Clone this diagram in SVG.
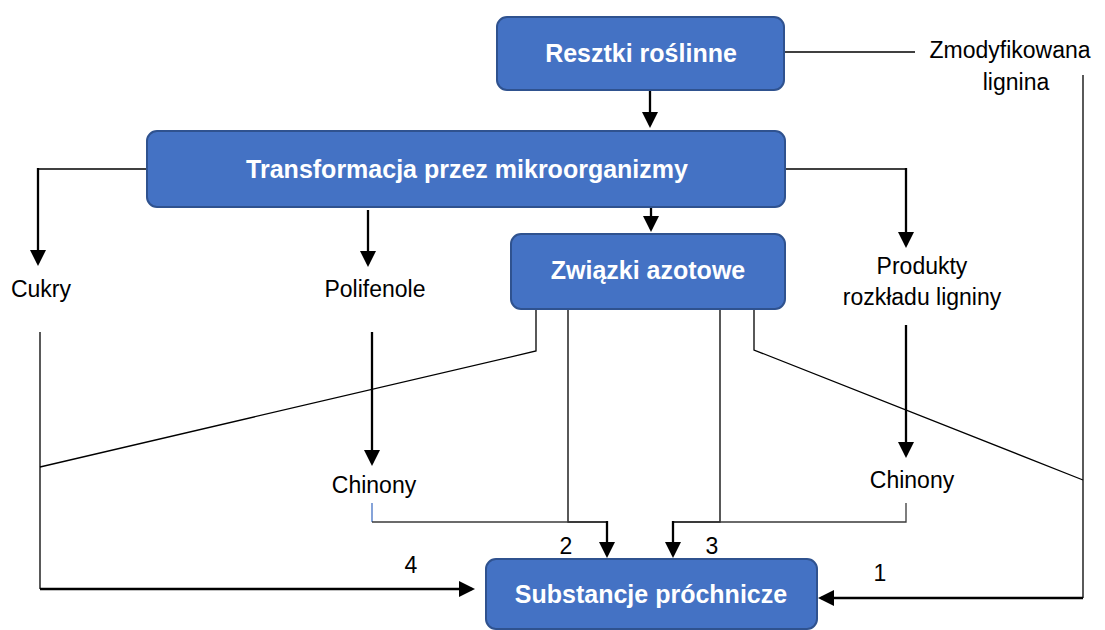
<svg xmlns="http://www.w3.org/2000/svg" width="1105" height="630" viewBox="0 0 1105 630">
<style>
.box{fill:#4472C4;stroke:#2F528F;stroke-width:2}
.bt{font-family:"Liberation Sans",Arial,sans-serif;font-weight:bold;font-size:25px;fill:#fff;text-anchor:middle}
.lt{font-family:"Liberation Sans",Arial,sans-serif;font-size:23px;fill:#000;text-anchor:middle}
.thin{fill:none;stroke:#000;stroke-width:1.3}
.gray{fill:none;stroke:#3a3a3a;stroke-width:1.3}
.blue{fill:none;stroke:#4472C4;stroke-width:1.3}
.arr{fill:none;stroke:#000;stroke-width:2.3;marker-end:url(#ah)}
</style>
<defs>
<marker id="ah" markerUnits="userSpaceOnUse" viewBox="0 0 16 16" markerWidth="16" markerHeight="16" refX="13" refY="8" orient="auto">
<path d="M0,0 L16,8 L0,16 Z" fill="#000"/>
</marker>
</defs>
<g id="connectors">
<path class="thin" d="M784,52 H915"/>
<path class="thin" d="M1083,75 V598"/>
<path class="thin" d="M147,169 H38"/>
<path class="thin" d="M785,169 H906"/>
<path class="thin" d="M536,309 V351 L40,467"/>
<path class="thin" d="M568,309 V522 H607"/>
<path class="thin" d="M720,309 V522 H673"/>
<path class="thin" d="M754,309 V350 L1083,480"/>
<path class="blue" d="M372,503 V522"/>
<path class="gray" d="M372,522 H607"/>
<path class="gray" d="M906,503 V522 H673"/>
<path class="thin" d="M40,332 V589"/>
<path class="arr" d="M650,90 V125"/>
<path class="arr" d="M651,203 V229"/>
<path class="arr" d="M38,168 V263"/>
<path class="arr" d="M368,210 V264"/>
<path class="arr" d="M906,168 V245"/>
<path class="arr" d="M372,332 V463"/>
<path class="arr" d="M906,325 V455"/>
<path class="arr" d="M607,521 V555"/>
<path class="arr" d="M673,521 V555"/>
<path class="arr" d="M40,589 H472"/>
<path class="arr" d="M1083,598 H821"/>
</g>
<g id="resztki"><rect class="box" x="497" y="17" width="287" height="73" rx="10"/><text class="bt" x="641" y="62">Resztki roślinne</text></g>
<g id="transformacja"><rect class="box" x="147" y="131" width="638" height="76" rx="10"/><text class="bt" x="467" y="178">Transformacja przez mikroorganizmy</text></g>
<g id="zwiazki"><rect class="box" x="511" y="234" width="274" height="75" rx="10"/><text class="bt" x="648" y="279">Związki azotowe</text></g>
<g id="substancje"><rect class="box" x="486" y="559" width="331" height="70" rx="10"/><text class="bt" x="651" y="603">Substancje próchnicze</text></g>
<g id="lignina"><text class="lt" x="1010" y="58">Zmodyfikowana</text><text class="lt" x="1016" y="90">lignina</text></g>
<g id="cukry"><text class="lt" x="41" y="297">Cukry</text></g>
<g id="polifenole"><text class="lt" x="375" y="297">Polifenole</text></g>
<g id="produkty"><text class="lt" x="922" y="274">Produkty</text><text class="lt" x="922" y="305">rozkładu ligniny</text></g>
<g id="chinony1"><text class="lt" x="374" y="493">Chinony</text></g>
<g id="chinony2"><text class="lt" x="912" y="488">Chinony</text></g>
<g id="labels">
<text class="lt" x="411" y="573">4</text>
<text class="lt" x="566" y="554">2</text>
<text class="lt" x="712" y="554">3</text>
<text class="lt" x="880" y="581">1</text>
</g>
</svg>
